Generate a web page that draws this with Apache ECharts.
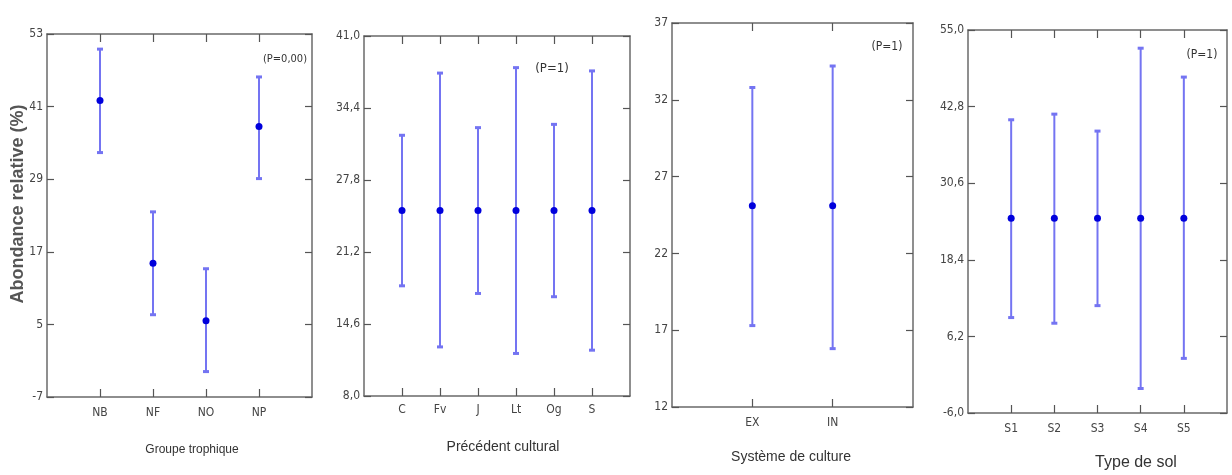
<!DOCTYPE html>
<html>
<head>
<meta charset="utf-8">
<script src="https://cdn.jsdelivr.net/npm/echarts@6/dist/echarts.min.js"></script>
<style>
html, body { margin: 0; padding: 0; background: #fff; }
#main { width: 1232px; height: 475px; }
</style>
</head>
<body>
<div id="main"></div>
<script>
// Groupe trophique
var grpCats = ['NB', 'NF', 'NO', 'NP'];
var grpMean = [42.0, 15.1, 5.6, 37.7];
var grpLow = [33.4, 6.6, -2.8, 29.1];
var grpHigh = [50.5, 23.6, 14.2, 45.9];
var grpTicks = [-7, 5, 17, 29, 41, 53];

// Précédent cultural
var precCats = ['C', 'Fv', 'J', 'Lt', 'Og', 'S'];
var precMean = [25, 25, 25, 25, 25, 25];
var precLow = [18.1, 12.5, 17.4, 11.9, 17.1, 12.2];
var precHigh = [31.9, 37.6, 32.6, 38.1, 32.9, 37.8];
var precTicks = [8.0, 14.6, 21.2, 27.8, 34.4, 41.0];

// Système de culture
var sysCats = ['EX', 'IN'];
var sysMean = [25.1, 25.1];
var sysLow = [17.3, 15.8];
var sysHigh = [32.8, 34.2];
var sysTicks = [12, 17, 22, 27, 32, 37];

// Type de sol
var solCats = ['S1', 'S2', 'S3', 'S4', 'S5'];
var solMean = [25, 25, 25, 25, 25];
var solLow = [9.2, 8.3, 11.1, -2.1, 2.7];
var solHigh = [40.7, 41.6, 38.9, 52.1, 47.5];
var solTicks = [-6.0, 6.2, 18.4, 30.6, 42.8, 55.0];

var narrow = "'Liberation Sans Narrow', 'DejaVu Sans Condensed', sans-serif";
var barColor = '#7474f2';
var dotColor = '#0000dc';
var frameColor = '#6a6a6a';

var panels = [
	{ cats: grpCats, mean: grpMean, low: grpLow, high: grpHigh, ticks: grpTicks, dec: 0,
	  grid: { left: 47, top: 34, width: 265, height: 363 }, labelGap: 10,
	  name: 'Groupe trophique', nameX: 192, nameY: 450, nameSize: 12,
	  p: '(P=0,00)', pX: 285, pY: 59, pSize: 11 },
	{ cats: precCats, mean: precMean, low: precLow, high: precHigh, ticks: precTicks, dec: 1,
	  grid: { left: 364, top: 36, width: 266, height: 360 }, labelGap: 8,
	  name: 'Précédent cultural', nameX: 503, nameY: 447, nameSize: 14,
	  p: '(P=1)', pX: 552, pY: 69, pSize: 13 },
	{ cats: sysCats, mean: sysMean, low: sysLow, high: sysHigh, ticks: sysTicks, dec: 0,
	  grid: { left: 672, top: 23, width: 241, height: 384 }, labelGap: 10,
	  name: 'Système de culture', nameX: 791, nameY: 457, nameSize: 14,
	  p: '(P=1)', pX: 887, pY: 47, pSize: 12 },
	{ cats: solCats, mean: solMean, low: solLow, high: solHigh, ticks: solTicks, dec: 1,
	  grid: { left: 968, top: 30, width: 259, height: 383 }, labelGap: 10,
	  name: 'Type de sol', nameX: 1136, nameY: 463, nameSize: 16,
	  p: '(P=1)', pX: 1202, pY: 55, pSize: 12 }
];

function renderBar(params, api) {
	var x = api.value(0);
	var top = api.coord([x, api.value(2)]);
	var bot = api.coord([x, api.value(1)]);
	var w = 3;
	return {
		type: 'group',
		children: [
			{ type: 'line', shape: { x1: top[0], y1: top[1], x2: bot[0], y2: bot[1] },
			  style: { stroke: barColor, lineWidth: 2 } },
			{ type: 'line', shape: { x1: top[0] - w, y1: top[1], x2: top[0] + w, y2: top[1] },
			  style: { stroke: barColor, lineWidth: 3 } },
			{ type: 'line', shape: { x1: bot[0] - w, y1: bot[1], x2: bot[0] + w, y2: bot[1] },
			  style: { stroke: barColor, lineWidth: 3 } }
		]
	};
}

var grids = [], xAxes = [], yAxes = [], series = [], graphics = [];

for (var k = 0; k < panels.length; k++) {
	var pn = panels[k];
	var n = pn.cats.length;
	var pos = [];
	for (var i = 1; i <= n; i++) pos.push(i);
	grids.push(pn.grid);

	var lineStyle = { color: frameColor, width: 1.5 };
	var tickLine = { color: '#555', width: 1.2 };
	(function (cats, dec, ticks) {
		xAxes.push({
			type: 'value', gridIndex: k, min: 0, max: n + 1, position: 'bottom',
			splitLine: { show: false },
			axisLine: { show: true, onZero: false, lineStyle: lineStyle },
			axisTick: { show: true, inside: true, length: 8, lineStyle: tickLine, customValues: pos },
			axisLabel: { customValues: pos, margin: pn.labelGap, color: '#444', fontSize: 12, fontFamily: narrow,
				formatter: function (v) { return cats[Math.round(v) - 1] || ''; } }
		});
		xAxes.push({
			type: 'value', gridIndex: k, min: 0, max: n + 1, position: 'top',
			splitLine: { show: false },
			axisLine: { show: true, onZero: false, lineStyle: lineStyle },
			axisTick: { show: true, inside: true, length: 8, lineStyle: tickLine, customValues: pos },
			axisLabel: { show: false }
		});
		yAxes.push({
			type: 'value', gridIndex: k, min: ticks[0], max: ticks[ticks.length - 1], position: 'left',
			splitLine: { show: false },
			axisLine: { show: true, onZero: false, lineStyle: lineStyle },
			axisTick: { show: true, inside: true, length: 7, lineStyle: tickLine, customValues: ticks },
			axisLabel: { customValues: ticks, margin: 4, color: '#444', fontSize: 12, fontFamily: narrow,
				formatter: function (v) { return v.toFixed(dec).replace('.', ','); } }
		});
		yAxes.push({
			type: 'value', gridIndex: k, min: ticks[0], max: ticks[ticks.length - 1], position: 'right',
			splitLine: { show: false },
			axisLine: { show: true, onZero: false, lineStyle: lineStyle },
			axisTick: { show: true, inside: true, length: 7, lineStyle: tickLine, customValues: ticks },
			axisLabel: { show: false }
		});
	})(pn.cats, pn.dec, pn.ticks);

	var barData = [], dotData = [];
	for (var j = 0; j < n; j++) {
		barData.push([j + 1, pn.low[j], pn.high[j]]);
		dotData.push([j + 1, pn.mean[j]]);
	}
	series.push({
		type: 'custom', xAxisIndex: k * 2, yAxisIndex: k * 2, renderItem: renderBar,
		encode: { x: 0, y: [1, 2] }, data: barData, silent: true, clip: false
	});
	series.push({
		type: 'scatter', xAxisIndex: k * 2, yAxisIndex: k * 2, symbolSize: 7,
		itemStyle: { color: dotColor, opacity: 1 }, data: dotData, silent: true
	});

	graphics.push({
		type: 'text', x: pn.nameX, y: pn.nameY,
		style: { text: pn.name, fill: '#333', fontSize: pn.nameSize, fontFamily: 'Liberation Sans, sans-serif',
			align: 'center', verticalAlign: 'middle' }
	});
	graphics.push({
		type: 'text', x: pn.pX, y: pn.pY,
		style: { text: pn.p, fill: '#333', fontSize: pn.pSize, fontFamily: narrow,
			align: 'center', verticalAlign: 'middle' }
	});
}

graphics.push({
	type: 'text', x: 18, y: 204, rotation: Math.PI / 2,
	style: { text: 'Abondance relative (%)', fill: '#555', fontSize: 18, fontWeight: 'bold',
		fontFamily: 'Liberation Sans, sans-serif', align: 'center', verticalAlign: 'middle' }
});

var chart = echarts.init(document.getElementById('main'));
chart.setOption({
	animation: false,
	grid: grids,
	xAxis: xAxes,
	yAxis: yAxes,
	series: series,
	graphic: graphics
});
</script>
</body>
</html>
